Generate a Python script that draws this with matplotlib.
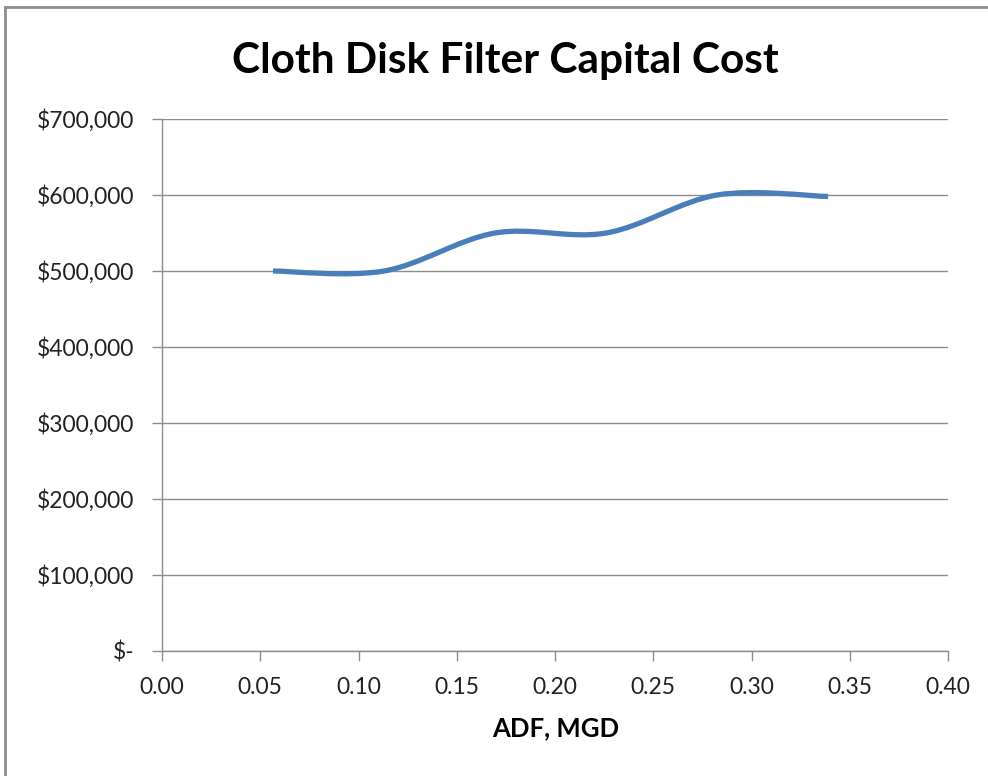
import numpy as np
import matplotlib.pyplot as plt
from matplotlib.path import Path
from matplotlib.patches import PathPatch, Rectangle
from matplotlib.ticker import FuncFormatter

# --- data ---
adf_mgd = [0.0565, 0.113, 0.1695, 0.226, 0.2825, 0.339]
capital_cost = [500000, 500000, 550000, 550000, 600000, 598000]

title = "Cloth Disk Filter Capital Cost"
x_label = "ADF, MGD"
x_ticks = [0.00, 0.05, 0.10, 0.15, 0.20, 0.25, 0.30, 0.35, 0.40]
y_ticks = [0, 100000, 200000, 300000, 400000, 500000, 600000, 700000]

plt.rcParams['font.family'] = ['Lato', 'DejaVu Sans']

W, H = 988, 776
fig = plt.figure(figsize=(W / 100, H / 100), dpi=100)
ax = fig.add_axes([162 / W, 1 - 651 / H, (948 - 162) / W, (651 - 119) / H])

# chart border (Excel chart area)
fig.patches.append(Rectangle((5 / W, -0.1), 1.2, 1 - 7 / H + 0.1,
                             transform=fig.transFigure, fill=False,
                             edgecolor='#8c8c8c', linewidth=2))


# --- Excel style smoothed line (cubic bezier, tension 1/6) ---
def smooth_path(xs, ys):
    pts = np.column_stack([xs, ys]).astype(float)
    n = len(pts)
    verts = [pts[0]]
    codes = [Path.MOVETO]
    for i in range(n - 1):
        p0 = pts[max(i - 1, 0)]
        p1 = pts[i]
        p2 = pts[i + 1]
        p3 = pts[min(i + 2, n - 1)]
        c1 = p1 + (p2 - p0) / 6
        c2 = p2 - (p3 - p1) / 6
        verts += [c1, c2, p2]
        codes += [Path.CURVE4] * 3
    return Path(verts, codes)


patch = PathPatch(smooth_path(adf_mgd, capital_cost), facecolor='none',
                  edgecolor='#4a7ebb', linewidth=3.8, capstyle='butt',
                  joinstyle='round', zorder=3)
ax.add_patch(patch)

ax.set_xlim(0, 0.40)
ax.set_ylim(0, 700000)
ax.set_xticks(x_ticks)
ax.set_yticks(y_ticks)


def money(v, pos):
    if v == 0:
        return "$-"
    return "${:,.0f}".format(v)


ax.yaxis.set_major_formatter(FuncFormatter(money))
ax.xaxis.set_major_formatter(FuncFormatter(lambda v, p: "{:.2f}".format(v)))

ax.grid(axis='y', color='#8c8c8c', linewidth=1)
ax.set_axisbelow(True)
for s in ['top', 'right']:
    ax.spines[s].set_visible(False)
for s in ['left', 'bottom']:
    ax.spines[s].set_color('#8c8c8c')
    ax.spines[s].set_linewidth(1)

ax.tick_params(axis='both', direction='out', length=7, width=1, color='#8c8c8c',
               labelsize=16.5, labelcolor='#222222')
ax.tick_params(axis='y', pad=13)
ax.tick_params(axis='x', pad=12)

# title and axis label placed like the Excel chart
fig.text(505 / W, 1 - 73 / H, title, fontsize=30.5, fontweight='bold',
         ha='center', va='baseline')
fig.text(556 / W, 1 - 736 / H, x_label, fontsize=18.5, fontweight='bold',
         ha='center', va='baseline')

fig.savefig("out.png", dpi=100)
